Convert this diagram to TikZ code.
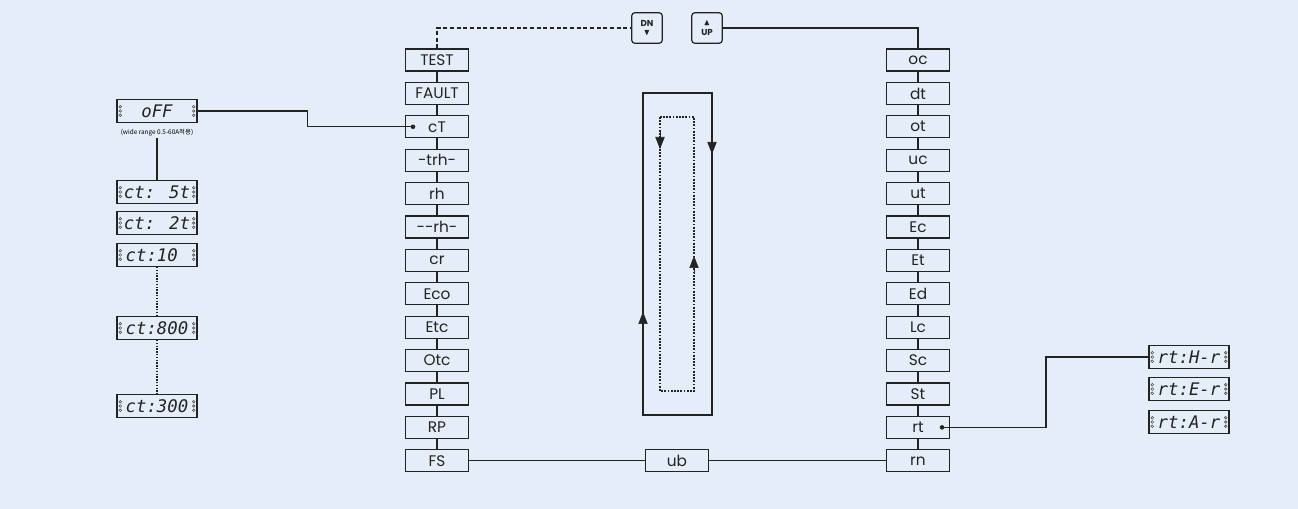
\documentclass[tikz,border=0pt]{standalone}
\usepackage{fontspec}
\usepackage{amssymb}
\setmainfont{Poppins}
\newfontfamily\krfont{Noto Sans CJK KR}
\newfontfamily\segfont{DejaVu Sans Mono}
\usetikzlibrary{arrows.meta}
\definecolor{panelbg}{RGB}{229,237,248}
\definecolor{inkgray}{RGB}{35,35,35}

\begin{document}
\begin{tikzpicture}[x=0.75pt,y=-0.75pt,
            menu node/.style={draw=inkgray,line width=0.95pt,minimum width=47pt,minimum height=16.5pt,inner sep=0pt,text=inkgray,font=\fontsize{11.5}{11.5}\selectfont},
            disp node/.style={draw=inkgray,line width=0.9pt,minimum width=60pt,minimum height=17pt,inner sep=0pt,text=inkgray,
                font=\segfont\itshape\fontsize{13}{13}\selectfont,
                path picture={\foreach \k in {-3.2pt,0pt,3.2pt} {
                    \draw[line width=0.3pt] ([xshift=2.4pt,yshift=\k]path picture bounding box.west) circle (1pt);
                    \draw[line width=0.3pt] ([xshift=-2.4pt,yshift=\k]path picture bounding box.east) circle (1pt);}}},
            key node/.style={draw=inkgray,line width=0.9pt,rounded corners=2.5pt,minimum size=23pt,inner sep=0pt,align=center,text=inkgray,font=\fontsize{6.5}{7}\selectfont\bfseries},
            loop tip/.style={-{Triangle[length=9pt,width=7pt]}},
            ]
            \fill[panelbg] (0,0) rectangle (1298,509);

            % up / down keys
            \node[key node] (dn) at (647,28) {DN\\$\blacktriangledown$};
            \node[key node] (up) at (707,28) {$\blacktriangle$\\UP};

            % left menu column
            \node[menu node] (l1) at (437,60) {TEST};
            \node[menu node] (l2) at (437,93.4) {FAULT};
            \node[menu node] (l3) at (437,126.8) {cT};
            \node[menu node] (l4) at (437,160.2) {-trh-};
            \node[menu node] (l5) at (437,193.6) {rh};
            \node[menu node] (l6) at (437,227) {{-}{-}rh-};
            \node[menu node] (l7) at (437,260.4) {cr};
            \node[menu node] (l8) at (437,293.8) {Eco};
            \node[menu node] (l9) at (437,327.2) {Etc};
            \node[menu node] (l10) at (437,360.6) {Otc};
            \node[menu node] (l11) at (437,394) {PL};
            \node[menu node] (l12) at (437,427.4) {RP};
            \node[menu node] (l13) at (437,460.8) {FS};

            % right menu column
            \node[menu node] (r1) at (918,60) {oc};
            \node[menu node] (r2) at (918,93.4) {dt};
            \node[menu node] (r3) at (918,126.8) {ot};
            \node[menu node] (r4) at (918,160.2) {uc};
            \node[menu node] (r5) at (918,193.6) {ut};
            \node[menu node] (r6) at (918,227) {Ec};
            \node[menu node] (r7) at (918,260.4) {Et};
            \node[menu node] (r8) at (918,293.8) {Ed};
            \node[menu node] (r9) at (918,327.2) {Lc};
            \node[menu node] (r10) at (918,360.6) {Sc};
            \node[menu node] (r11) at (918,394) {St};
            \node[menu node] (r12) at (918,427.4) {rt};
            \node[menu node] (r13) at (918,460.8) {rn};

            \node[menu node] (ub) at (677,460.8) {ub};

            % displays
            \node[disp node] (off) at (157,111) {oFF};
            \node[font=\krfont\fontsize{4.8}{5}\selectfont,inner sep=1pt] (offnote) at (157,133) {(wide range 0.5-60A적용)};
            \node[disp node] (ct5) at (157,192) {ct: 5t};
            \node[disp node] (ct2) at (157,223) {ct: 2t};
            \node[disp node] (ct10) at (157,255) {ct:10\phantom{0}};
            \node[disp node] (ct800) at (157,328) {ct:800};
            \node[disp node] (ct300) at (157,406) {ct:300};
            \node[disp node] (rth) at (1189,357) {rt:H-r};
            \node[disp node] (rte) at (1189,389) {rt:E-r};
            \node[disp node] (rta) at (1189,422) {rt:A-r};

            \coordinate (ctdot) at (413,126.8);
            \coordinate (rtdot) at (942,427.4);

            % connectors
            \foreach \i [count=\j from 2] in {1,...,12} {
                \draw[inkgray,line width=0.9pt] (l\i) -- (l\j);
                \draw[inkgray,line width=0.9pt] (r\i) -- (r\j);
            }
            \draw[inkgray,line width=0.9pt,densely dashed] (l1) |- (dn);
            \draw[inkgray,line width=0.9pt] (up) -| (r1);
            \draw[inkgray,line width=0.9pt] (l13) -- (ub);
            \draw[inkgray,line width=0.9pt] (ub) -- (r13);
            \draw[inkgray,line width=1pt] (off.east) -- ++(110,0) |- (ctdot);
            \fill[inkgray] (ctdot) circle (1.7pt);
            \draw[inkgray,line width=1pt] (rtdot) -- ++(104,0) |- (rth);
            \fill[inkgray] (rtdot) circle (1.7pt);
            \draw[inkgray,line width=1pt] (offnote) -- (ct5);
            \draw[inkgray,line width=1.1pt,densely dotted] (ct10) -- (ct800);
            \draw[inkgray,line width=1.1pt,densely dotted] (ct800) -- (ct300);

            % scroll loop
            \draw[inkgray,line width=1.1pt] (643,93) rectangle (712,415);
            \draw[inkgray,line width=1.4pt,densely dotted] (660,117) rectangle (694,391);
            \draw[inkgray,loop tip] (712,136) -- (712,154);
            \draw[inkgray,loop tip] (643,330) -- (643,312);
            \draw[inkgray,loop tip] (660,131) -- (660,149);
            \draw[inkgray,loop tip] (694,274) -- (694,256);
\end{tikzpicture}
\end{document}
